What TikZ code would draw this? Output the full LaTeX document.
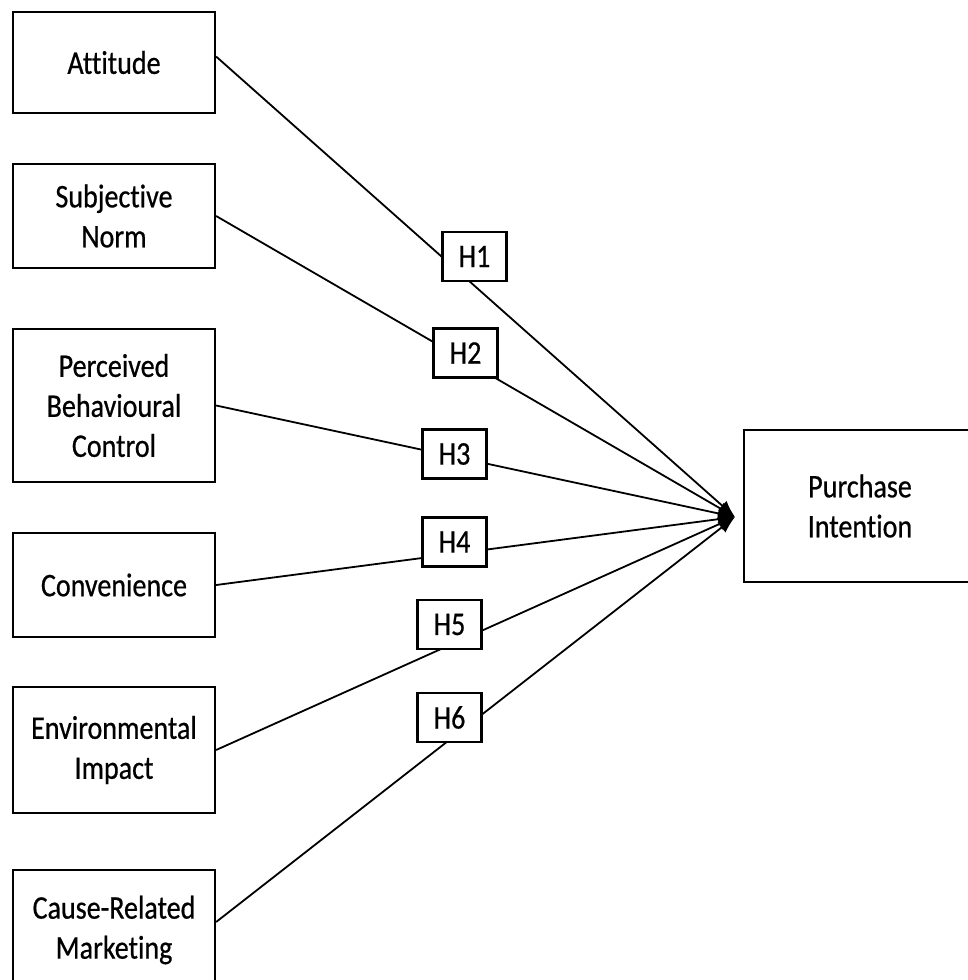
\documentclass[tikz,border=0pt]{standalone}
\usepackage{fontspec}
\setmainfont{Carlito}[FakeStretch=0.85, FakeBold=0.6, Ligatures=NoCommon]
\usetikzlibrary{arrows.meta}
\begin{document}
\begin{tikzpicture}[x=1pt,y=-1pt,
  every node/.style={font=\fontsize{33}{40}\selectfont, align=center, inner sep=0pt},
  factor/.style={draw, line width=2.2pt, minimum width=202pt},
  hyp/.style={draw, line width=2.2pt, fill=white, minimum width=64pt, minimum height=49pt},
  link/.style={line width=1.8pt, -{Latex[length=17pt,width=13pt]}}]
\useasboundingbox (0,0) rectangle (968,980);
\clip (0,0) rectangle (968,980);
\node[factor, minimum height=101pt] (att) at (114,62.5) {Attitude};
\node[factor, minimum height=104pt] (sn) at (114,216) {Subjective\\Norm};
\node[factor, minimum height=153pt] (pbc) at (114,405.5) {Perceived\\Behavioural\\Control};
\node[factor, minimum height=104pt] (conv) at (114,585) {Convenience};
\node[factor, minimum height=126pt] (env) at (114,750) {Environmental\\Impact};
\node[factor, minimum height=120pt] (crm) at (114,930) {Cause-Related\\Marketing};
\node[draw, line width=2.2pt, minimum width=232pt, minimum height=152pt] (pi) at (860,506) {Purchase\\Intention};
\coordinate (tip) at (735,517);
\draw[link] ([yshift=6pt]att.east) -- (tip);
\draw[link] (sn.east) -- (tip);
\draw[link] (pbc.east) -- (tip);
\draw[link] (conv.east) -- (tip);
\draw[link] (env.east) -- (tip);
\draw[link] ([yshift=8pt]crm.east) -- (tip);
\node[hyp] (h1) at (474.5,256.5) {H1};
\node[hyp] (h2) at (465.5,353) {H2};
\node[hyp] (h3) at (454.5,454) {H3};
\node[hyp] (h4) at (454.5,542) {H4};
\node[hyp] (h5) at (449.5,624.5) {H5};
\node[hyp] (h6) at (449.5,717.5) {H6};
\end{tikzpicture}
\end{document}
